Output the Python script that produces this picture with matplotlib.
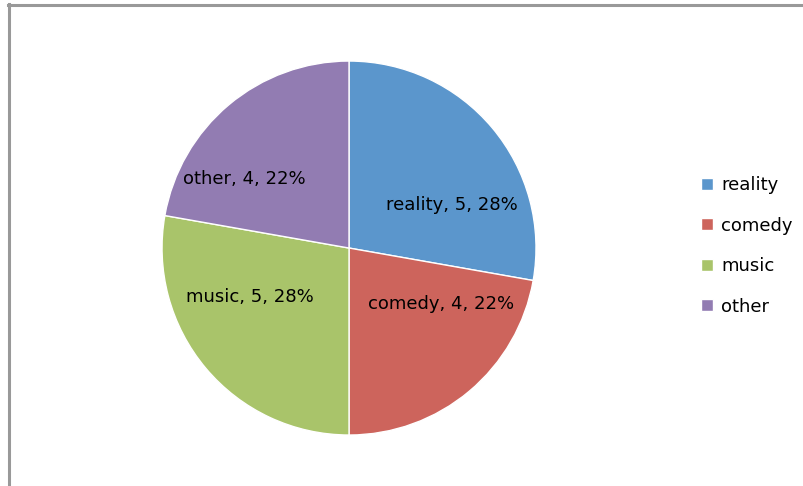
import matplotlib.pyplot as plt
from matplotlib.lines import Line2D

# Datos
categorias = ["reality", "comedy", "music", "other"]
valores = [5, 4, 5, 4]
colores = ["#5B96CC", "#CD645C", "#A9C46A", "#927CB2"]
# posiciones de las etiquetas (en unidades del radio)
pos_etiquetas = [(0.55, 0.23), (0.49, -0.30), (-0.53, -0.26), (-0.56, 0.37)]

total = sum(valores)

fig = plt.figure(figsize=(8.04, 4.86), dpi=100)
ax = fig.add_axes([0.2015, 0.1049, 0.4652, 0.7695])
cunas, _ = ax.pie(valores, colors=colores, startangle=90, counterclock=False,
                  wedgeprops=dict(edgecolor="white", linewidth=1))
ax.set_xlim(-1, 1)
ax.set_ylim(-1, 1)
ax.set_aspect("equal")

for cat, v, (x, y) in zip(categorias, valores, pos_etiquetas):
    ax.text(x, y, f"{cat}, {v}, {round(100 * v / total)}%", ha="center", va="center",
            fontsize=13, color="black")

fig.legend(cunas, categorias, loc="center left", bbox_to_anchor=(0.872, 0.494),
           frameon=False, fontsize=13, handlelength=0.65, handleheight=0.65,
           handletextpad=0.45, labelspacing=1.25, borderpad=0, borderaxespad=0)

# marco gris
fig.add_artist(Line2D([9.5 / 804, 9.5 / 804], [0, 1 - 4 / 486], color="#999999",
                      linewidth=2.2, transform=fig.transFigure))
fig.add_artist(Line2D([8 / 804, 1], [1 - 5.5 / 486, 1 - 5.5 / 486], color="#999999",
                      linewidth=2.2, transform=fig.transFigure))

fig.savefig("out.png", dpi=100)
